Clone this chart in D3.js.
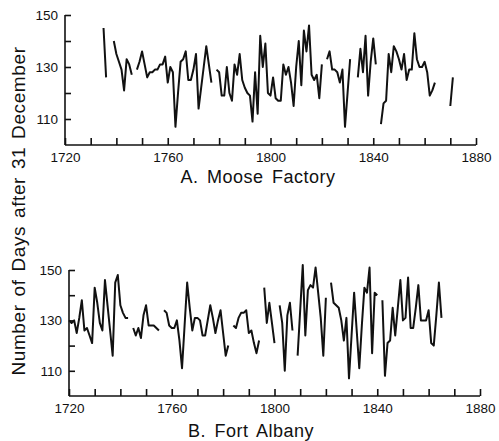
<!DOCTYPE html>
<html>
<head>
<meta charset="utf-8">
<script src="https://cdn.jsdelivr.net/npm/d3@7/dist/d3.min.js"></script>
<style>
  body { margin: 0; background: #fff; }
  svg text { font-family: "Liberation Sans", Arial, sans-serif; fill: #111; }
  .axis path, .axis line { stroke: #111; stroke-width: 1.6; }
  .axis text { font-size: 13.5px; }
</style>
</head>
<body>
<div id="chart"></div>
<script>
// break-up dates, days after 31 December (null = no record)
var mooseStart = 1735;
var mooseDays = [
  145,126,null,null,140,135,132,129,121,133,131,127,null,      // 1735-1747
  129,132,136,131,126,128,128,129,129,131,131,134,124,130,128, // 1748-1762
  107,120,132,133,136,125,125,129,135,114,122,130,138,131,124, // 1763-1777
  null,129,128,119,119,130,120,117,131,127,135,125,122,120,119,// 1778-1792
  109,128,112,142,130,139,120,119,126,118,117,117,131,127,130, // 1793-1807
  124,115,130,140,123,144,136,146,127,125,127,118,131,null,    // 1808-1821
  133,136,129,129,128,124,129,107,120,133,null,null,           // 1822-1833
  126,137,128,142,119,132,141,131,null,                        // 1834-1842
  108,116,117,135,128,138,136,133,129,135,125,129,129,143,133, // 1843-1857
  130,130,132,128,119,121,124,null,null,null,null,null,115,126 // 1858-1871
];

var albanyStart = 1720;
var albanyDays = [
  130,129,130,125,131,138,126,127,124,121,143,137,129,         // 1720-1732
  126,146,136,126,116,145,148,136,133,131,131,null,            // 1733-1744
  127,124,127,123,132,136,128,128,128,127,126,null,            // 1745-1756
  134,133,128,127,127,130,122,111,128,145,135,126,131,131,130, // 1757-1771
  124,124,130,136,131,125,130,134,125,116,120,null,            // 1772-1783
  128,127,131,133,133,134,125,126,121,117,122,null,            // 1784-1795
  143,129,137,129,121,null,136,129,110,132,137,126,null,       // 1796-1808
  116,134,152,124,142,144,143,151,141,131,116,139,null,        // 1809-1821
  145,137,136,135,130,122,131,107,124,141,126,111,128,143,141, // 1822-1836
  151,117,141,140,null,                                        // 1837-1841
  138,108,121,122,135,124,135,146,130,131,147,127,127,135,144, // 1842-1856
  130,130,130,134,121,120,132,145,131                          // 1857-1865
];

var yearTicks = d3.range(1720, 1881, 10);
var labelYears = [1720, 1760, 1800, 1840, 1880];
var dayTicks = [110, 120, 130, 140, 150];
var dayLabels = [110, 130, 150];

var width = 499, height = 441;

var svg = d3.select("#chart").append("svg")
  .attr("width", width)
  .attr("height", height);

function toRows(start, vals) {
  return vals.map(function(v, i) { return { year: start + i, days: v }; });
}

function drawPanel(rows, left, right, top, bottom, title, titleX, titleY) {
  var x = d3.scaleLinear().domain([1720, 1880]).range([left, right]);
  var y = d3.scaleLinear().domain([100, 150]).range([bottom, top]);

  var xAxis = d3.axisBottom(x)
    .tickValues(yearTicks)
    .tickSize(-7)
    .tickSizeOuter(0)
    .tickPadding(7)
    .tickFormat(function(d) { return labelYears.indexOf(d) >= 0 ? d : ""; });

  var yAxis = d3.axisLeft(y)
    .tickValues(dayTicks)
    .tickSize(-6)
    .tickSizeOuter(0)
    .tickPadding(7)
    .tickFormat(function(d) { return dayLabels.indexOf(d) >= 0 ? d : ""; });

  svg.append("g").attr("class", "axis")
    .attr("transform", "translate(0," + bottom + ")")
    .call(xAxis)
    .call(function(g) { g.select(".domain").attr("d", "M" + left + ",0H" + right); });

  svg.append("g").attr("class", "axis")
    .attr("transform", "translate(" + left + ",0)")
    .call(yAxis)
    .call(function(g) { g.select(".domain").attr("d", "M0," + top + "V" + bottom); });

  var line = d3.line()
    .defined(function(d) { return d.days != null; })
    .x(function(d) { return x(d.year); })
    .y(function(d) { return y(d.days); });

  svg.append("path")
    .datum(rows)
    .attr("fill", "none")
    .attr("stroke", "#111")
    .attr("stroke-width", 2)
    .attr("stroke-linejoin", "round")
    .attr("d", line);

  svg.append("text")
    .attr("x", titleX)
    .attr("y", titleY)
    .attr("text-anchor", "middle")
    .style("font-size", "18px")
    .style("letter-spacing", "0.5px")
    .style("word-spacing", "3px")
    .text(title);
}

drawPanel(toRows(mooseStart, mooseDays), 65, 476, 15, 145, "A. Moose Factory", 258, 183);
drawPanel(toRows(albanyStart, albanyDays), 69, 480, 270, 396, "B. Fort Albany", 251, 437);

svg.append("text")
  .attr("transform", "translate(25,211) rotate(-90)")
  .attr("text-anchor", "middle")
  .style("font-size", "19px")
  .style("letter-spacing", "0.6px")
  .style("word-spacing", "2px")
  .text("Number of Days after 31 December");
</script>
</body>
</html>
